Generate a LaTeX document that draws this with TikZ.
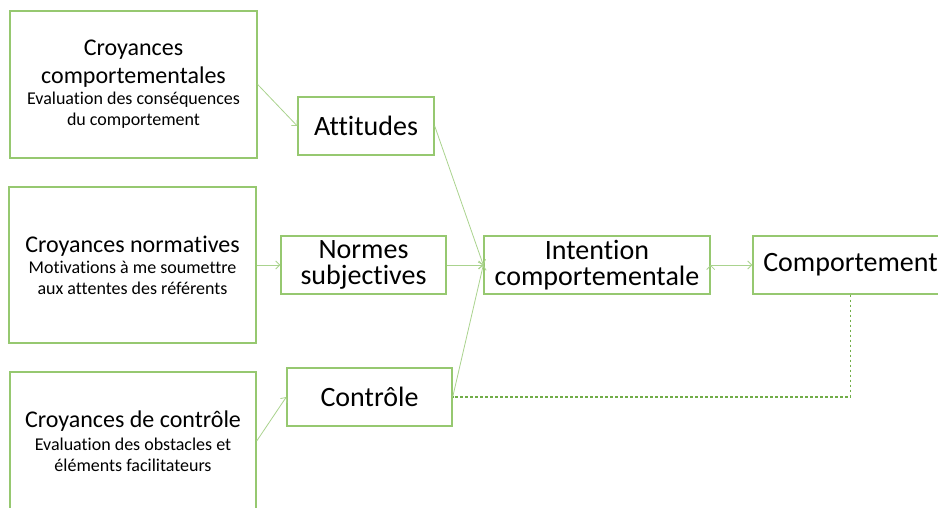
\documentclass[tikz,border=0pt]{standalone}
\usepackage{fontspec}
\setmainfont{Carlito}[Ligatures=NoCommon]
\usetikzlibrary{positioning,arrows.meta}

\definecolor{boxgreen}{RGB}{150,200,112}
\definecolor{linegreen}{RGB}{170,211,142}
\definecolor{dotgreen}{RGB}{112,173,71}

\newcommand{\headtxt}{\fontsize{24}{29}\selectfont}
\newcommand{\subtxt}{\fontsize{18}{21}\selectfont}
\newcommand{\maintxt}{\fontsize{28}{26}\selectfont}

\begin{document}
\begin{tikzpicture}[x=1pt,y=-1pt,->,>={Straight Barb[length=4pt,width=8pt]},
  belief/.style={draw=boxgreen,line width=1.4pt,align=center,inner sep=0pt,
    font=\subtxt},
  factor/.style={draw=boxgreen,line width=1.4pt,align=center,inner sep=0pt,
    minimum height=58pt,font=\maintxt},
  link/.style={draw=linegreen,line width=0.8pt}]

  \useasboundingbox (0,0) rectangle (938,507);

  % croyances
  \node[belief, minimum width=247pt, minimum height=147pt] (cc) at (133.5,84.5)
    {{\headtxt Croyances}\\[7pt]{\headtxt comportementales}\\Evaluation des conséquences\\du comportement};
  \node[belief, minimum width=247pt, minimum height=156pt] (cn) at (132.5,265)
    {{\headtxt Croyances normatives}\\Motivations à me soumettre\\aux attentes des référents};
  \node[belief, minimum width=246pt, minimum height=138pt] (cctl) at (133,441)
    {{\headtxt Croyances de contrôle}\\[2pt]Evaluation des obstacles et\\éléments facilitateurs};

  % facteurs
  \node[factor, minimum width=136pt] (att) at (366,126) {Attitudes};
  \node[factor, minimum width=165pt] (ns) at (363.5,265) {Normes\\subjectives};
  \node[factor, minimum width=165pt] (ctl) at (369.5,397) {Contrôle};
  \node[factor, minimum width=226pt] (int) at (597,265) {Intention\\comportementale};
  \node[factor, minimum width=195pt] (comp) at (850.5,265) {Comportement};

  \path[link]
    (cc.east) edge (att.west)
    (cn.east) edge (ns.west)
    (cctl.east) edge (ctl.west)
    (att.east) edge (int.west)
    (ns.east) edge (int.west)
    (ctl.east) edge (int.west)
    (int.east) edge (comp.west);

  \draw[-, dotgreen, line width=1.2pt, dash pattern=on 2.5pt off 2.5pt] (comp.south) |- (ctl.east);
\end{tikzpicture}
\end{document}
